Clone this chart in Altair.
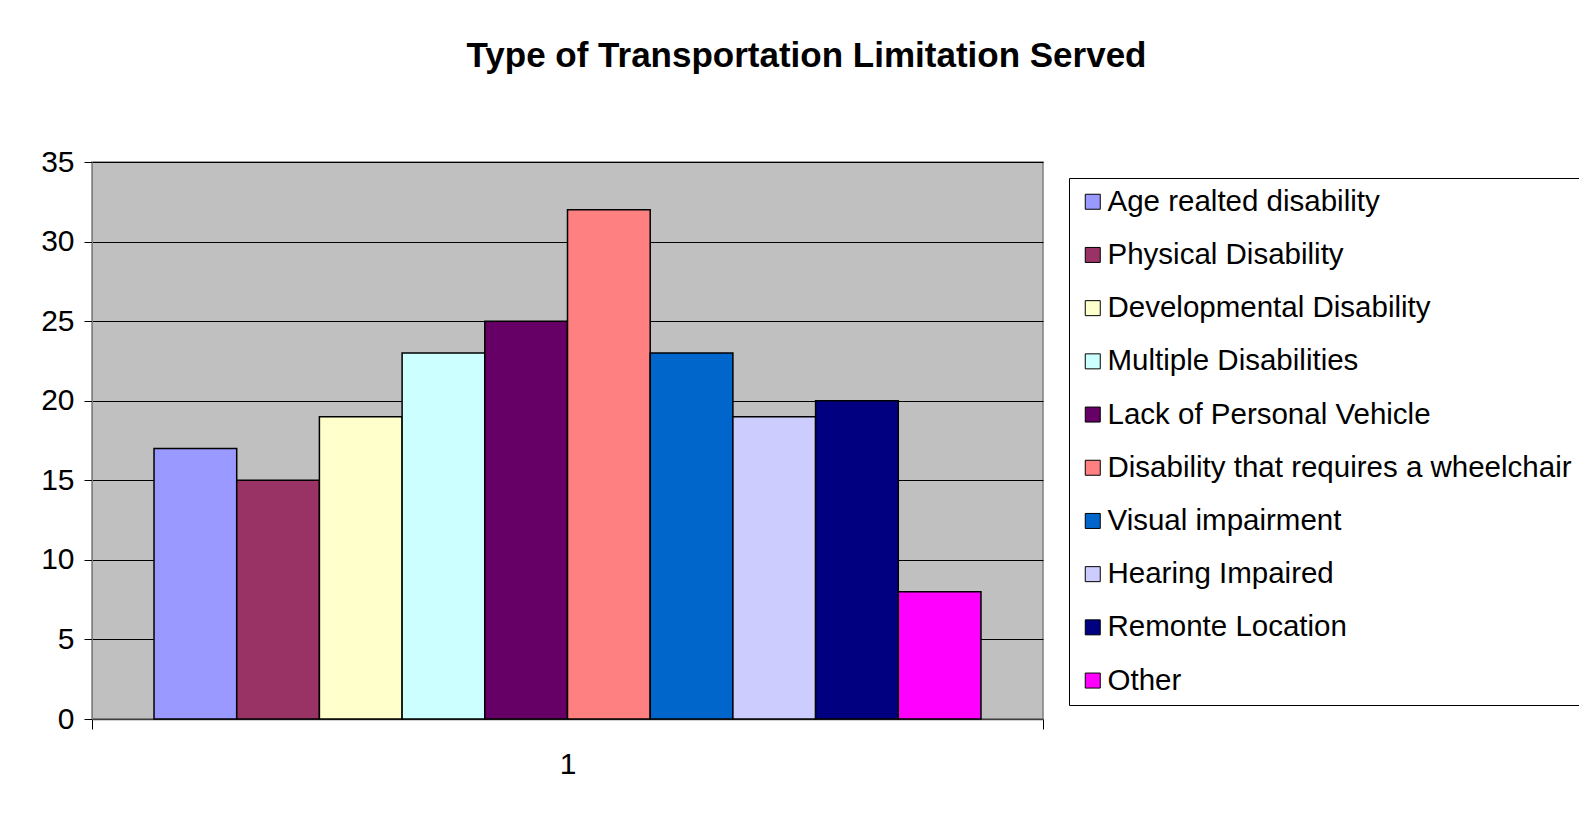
import altair as alt
import pandas as pd

categories = [
    "Age realted disability",
    "Physical Disability",
    "Developmental Disability",
    "Multiple Disabilities",
    "Lack of Personal Vehicle",
    "Disability that requires a wheelchair",
    "Visual impairment",
    "Hearing Impaired",
    "Remonte Location",
    "Other",
]
values = [17, 15, 19, 23, 25, 32, 23, 19, 20, 8]
colors = ["#9999FF", "#993366", "#FFFFCC", "#CCFFFF", "#660066",
          "#FF8080", "#0066CC", "#CCCCFF", "#000080", "#FF00FF"]
group_label = "1"
y_ticks = [0, 5, 10, 15, 20, 25, 30, 35]

df = pd.DataFrame({"group": [group_label] * len(categories),
                   "category": categories, "value": values})

FONT = "Liberation Sans"

chart = alt.Chart(df).mark_bar(stroke="black", strokeWidth=1.5).encode(
    x=alt.X("group:N",
            scale=alt.Scale(paddingInner=0, paddingOuter=0),
            axis=alt.Axis(title=None, labelAngle=0, tickBand="extent",
                          labelFontSize=30, labelFont=FONT, labelColor="black",
                          tickColor="black", tickSize=10, labelPadding=20,
                          domainColor="#404040", domainWidth=1.5)),
    xOffset=alt.XOffset("category:N", sort=categories,
                        scale=alt.Scale(paddingOuter=0.75, paddingInner=0)),
    y=alt.Y("value:Q",
            scale=alt.Scale(domain=[0, 35]),
            axis=alt.Axis(title=None, values=y_ticks, tickSize=8,
                          tickColor="black", domainColor="#808080",
                          gridColor="black", gridOpacity=1,
                          labelFontSize=30, labelFont=FONT, labelColor="black",
                          labelPadding=10)),
    color=alt.Color("category:N", sort=categories,
                    scale=alt.Scale(domain=categories, range=colors),
                    legend=alt.Legend(title=None, orient="none",
                                      legendX=977, legendY=16,
                                      padding=9, strokeColor="black",
                                      fillColor="white",
                                      symbolType="square", symbolSize=225,
                                      symbolStrokeColor="black",
                                      symbolStrokeWidth=1,
                                      labelFontSize=29.5, labelFont=FONT,
                                      labelColor="black", labelLimit=1000,
                                      labelOffset=0, rowPadding=22.2)),
).properties(
    width=951,
    height=557,
    title=alt.Title("Type of Transportation Limitation Served",
                    fontSize=35, font=FONT, fontWeight="bold",
                    color="black", anchor="middle", baseline="alphabetic",
                    offset=45, dx=239),
    autosize=alt.AutoSizeParams(type="none"),
    padding={"left": 84, "top": 154, "right": 536, "bottom": 92},
    background="white",
).configure_view(
    stroke="#808080", fill="#C0C0C0", strokeWidth=1.5
)

chart.save("out.html", embed_options={"renderer": "svg", "actions": False})
